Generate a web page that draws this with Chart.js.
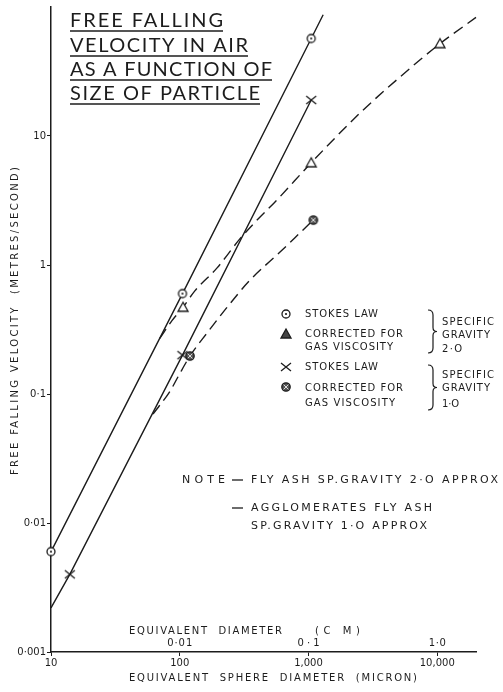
<!DOCTYPE html>
<html>
<head>
<meta charset="utf-8">
<script src="https://cdn.jsdelivr.net/npm/chart.js@4.4.1/dist/chart.umd.min.js"></script>
<style>
html, body { margin: 0; padding: 0; background: #fff; }
canvas { display: block; }
</style>
</head>
<body>
<canvas id="chute" width="503" height="692"></canvas>
<script>
// ===========================
// Data
// ===========================
const xTicks = [10, 100, 1000, 10000];
const xTickLabels = ['10', '100', '1,000', '10,000'];
const cmTickValues = [100, 1000, 10000];
const cmTickLabels = ['0·01', '0·1', '1·0'];
const yTicks = [0.001, 0.01, 0.1, 1, 10];
const yTickLabels = ['0·001', '0·01', '0·1', '1', '10'];

// Stokes law, specific gravity 2.0 (circles)
const stokes2X = [10, 105, 1050, 1300];
const stokes2Y = [0.006, 0.6, 57, 87];
const stokes2Marks = [0, 1, 2];

// Stokes law, specific gravity 1.0 (crosses)
const stokes1X = [10, 14, 105, 1050];
const stokes1Y = [0.0022, 0.004, 0.2, 19];
const stokes1Marks = [1, 2, 3];

// Corrected for gas viscosity, SG 2.0 (triangles)
const corr2X = [70, 87, 106, 131, 195, 294, 385, 570, 1050, 2500, 5000, 10500, 20000];
const corr2Y = [0.27, 0.37, 0.47, 0.63, 0.95, 1.6, 2.15, 3.2, 6.2, 15, 28, 52, 83];
const corr2Marks = [2, 8, 11];

// Corrected for gas viscosity, SG 1.0 (circled crosses)
const corr1X = [62, 84, 97, 120, 163, 233, 352, 601, 907, 1090];
const corr1Y = [0.07, 0.105, 0.136, 0.197, 0.297, 0.47, 0.765, 1.26, 1.87, 2.23];
const corr1Marks = [3, 9];

const ink = '#1c1c1c';

// ===========================
// Markers
// ===========================
function makeMarker(kind) {
    const c = document.createElement('canvas');
    c.width = 14; c.height = 14;
    const g = c.getContext('2d');
    const m = 7;
    g.strokeStyle = ink; g.fillStyle = '#fff'; g.lineWidth = 1.3;
    if (kind === 'circle') {
        g.beginPath(); g.arc(m, m, 4, 0, 2 * Math.PI); g.fill(); g.stroke();
        g.fillStyle = ink; g.beginPath(); g.arc(m, m, 1.1, 0, 2 * Math.PI); g.fill();
    } else if (kind === 'triangle' || kind === 'triangleFill') {
        if (kind === 'triangleFill') g.fillStyle = '#444';
        g.beginPath(); g.moveTo(m, m - 5); g.lineTo(m + 5, m + 4); g.lineTo(m - 5, m + 4); g.closePath();
        g.fill(); g.stroke();
    } else if (kind === 'cross') {
        g.beginPath();
        g.moveTo(m - 5, m - 4); g.lineTo(m + 5, m + 4);
        g.moveTo(m + 5, m - 4); g.lineTo(m - 5, m + 4);
        g.stroke();
    } else {
        g.fillStyle = '#555'; g.beginPath(); g.arc(m, m, 4.2, 0, 2 * Math.PI); g.fill(); g.stroke();
        g.strokeStyle = '#ddd'; g.lineWidth = 1;
        g.beginPath();
        g.moveTo(m - 2.4, m - 2.4); g.lineTo(m + 2.4, m + 2.4);
        g.moveTo(m + 2.4, m - 2.4); g.lineTo(m - 2.4, m + 2.4);
        g.stroke();
    }
    return c;
}
const mkCircle = makeMarker('circle');
const mkTriangle = makeMarker('triangle');
const mkTriangleFill = makeMarker('triangleFill');
const mkCross = makeMarker('cross');
const mkOtimes = makeMarker('otimes');

function serie(xs, ys, marks, marker, dashed) {
    return {
        data: xs.map((x, i) => ({ x: x, y: ys[i] })),
        borderColor: ink,
        borderWidth: 1.4,
        borderDash: dashed ? [11, 6] : [],
        cubicInterpolationMode: dashed ? 'monotone' : 'default',
        tension: 0,
        pointStyle: marker,
        pointRadius: ctx => marks.includes(ctx.dataIndex) ? 5 : 0,
        fill: false,
        clip: false
    };
}

// ===========================
// Text helpers
// ===========================
function fitText(ctx, s, x, y, w, size, family) {
    ctx.font = size + 'px ' + (family || '"DejaVu Sans"');
    ctx.letterSpacing = '0px';
    const m = ctx.measureText(s).width;
    const ls = s.length > 1 ? (w - m) / (s.length - 1) : 0;
    ctx.letterSpacing = ls + 'px';
    ctx.fillText(s, x, y);
    ctx.letterSpacing = '0px';
}

function brace(ctx, x, y0, y1) {
    const ym = (y0 + y1) / 2;
    ctx.beginPath();
    ctx.moveTo(x, y0);
    ctx.quadraticCurveTo(x + 5, y0, x + 5, y0 + 5);
    ctx.lineTo(x + 5, ym - 4);
    ctx.quadraticCurveTo(x + 5, ym, x + 9, ym);
    ctx.quadraticCurveTo(x + 5, ym, x + 5, ym + 4);
    ctx.lineTo(x + 5, y1 - 5);
    ctx.quadraticCurveTo(x + 5, y1, x, y1);
    ctx.stroke();
}

// ===========================
// Title, legend, notes, axis titles
// ===========================
const decor = {
    id: 'decor',
    afterDraw(chart) {
        const ctx = chart.ctx;
        const xs = chart.scales.x;
        ctx.save();
        ctx.fillStyle = ink;
        ctx.strokeStyle = ink;

        // title with underlines
        const title = [['FREE FALLING', 27, 153], ['VELOCITY IN AIR', 52, 178],
                       ['AS A FUNCTION OF', 76, 202], ['SIZE OF PARTICLE', 100, 190]];
        ctx.textBaseline = 'alphabetic';
        ctx.lineWidth = 1.3;
        title.forEach(t => {
            fitText(ctx, t[0], 70, t[1], t[2], 20, 'Lato');
            ctx.beginPath(); ctx.moveTo(70, t[1] + 4); ctx.lineTo(70 + t[2], t[1] + 4); ctx.stroke();
        });

        ctx.textBaseline = 'middle';

        // y axis title
        ctx.save();
        ctx.translate(15, 321);
        ctx.rotate(-Math.PI / 2);
        fitText(ctx, 'FREE FALLING VELOCITY  (METRES/SECOND)', -154, 0, 308, 10);
        ctx.restore();

        // legend
        ctx.drawImage(mkCircle, 279, 307);
        ctx.drawImage(mkTriangleFill, 279, 327);
        ctx.drawImage(mkCross, 279, 360);
        ctx.drawImage(mkOtimes, 279, 380);
        fitText(ctx, 'STOKES LAW', 305, 314, 73, 10);
        fitText(ctx, 'CORRECTED FOR', 305, 334, 98, 10);
        fitText(ctx, 'GAS VISCOSITY', 305, 347, 88, 10);
        fitText(ctx, 'STOKES LAW', 305, 367, 73, 10);
        fitText(ctx, 'CORRECTED FOR', 305, 388, 98, 10);
        fitText(ctx, 'GAS VISCOSITY', 305, 403, 90, 10);
        ctx.lineWidth = 1.2;
        brace(ctx, 428, 310, 353);
        brace(ctx, 428, 365, 410);
        fitText(ctx, 'SPECIFIC', 442, 322, 52, 10);
        fitText(ctx, 'GRAVITY', 442, 335, 48, 10);
        fitText(ctx, '2·O', 442, 349, 20, 10);
        fitText(ctx, 'SPECIFIC', 442, 375, 52, 10);
        fitText(ctx, 'GRAVITY', 442, 388, 48, 10);
        fitText(ctx, '1·O', 442, 404, 17, 10);

        // notes
        fitText(ctx, 'NOTE', 182, 480, 43, 11);
        ctx.lineWidth = 1.3;
        [480, 508].forEach(y => { ctx.beginPath(); ctx.moveTo(232, y); ctx.lineTo(243, y); ctx.stroke(); });
        fitText(ctx, 'FLY ASH SP.GRAVITY 2·O APPROX', 251, 480, 247, 11);
        fitText(ctx, 'AGGLOMERATES FLY ASH', 251, 508, 181, 11);
        fitText(ctx, 'SP.GRAVITY 1·O APPROX', 251, 526, 176, 11);

        // x axis: centimetre scale and titles
        fitText(ctx, 'EQUIVALENT  DIAMETER', 129, 631, 153, 10);
        fitText(ctx, '(C M)', 315, 631, 45, 10);
        const cmW = [25, 22, 17];
        cmTickValues.forEach((v, i) => {
            const px = xs.getPixelForValue(v);
            fitText(ctx, cmTickLabels[i], px - cmW[i] / 2, 643, cmW[i], 10);
        });
        fitText(ctx, 'EQUIVALENT  SPHERE  DIAMETER  (MICRON)', 129, 678, 288, 10);

        ctx.restore();
    }
};

// ===========================
// Chart
// ===========================
new Chart(document.getElementById('chute').getContext('2d'), {
    type: 'line',
    data: {
        datasets: [
            serie(stokes2X, stokes2Y, stokes2Marks, mkCircle, false),
            serie(stokes1X, stokes1Y, stokes1Marks, mkCross, false),
            serie(corr2X, corr2Y, corr2Marks, mkTriangle, true),
            serie(corr1X, corr1Y, corr1Marks, mkOtimes, true)
        ]
    },
    options: {
        responsive: false,
        animation: false,
        devicePixelRatio: 1,
        layout: { padding: { top: 7, right: 27, left: 0, bottom: 0 } },
        plugins: { legend: { display: false }, tooltip: { enabled: false } },
        scales: {
            x: {
                type: 'logarithmic',
                min: 10,
                max: 20000,
                border: { color: ink, width: 1.5 },
                grid: { drawOnChartArea: false, drawTicks: true, tickLength: 4, color: ink },
                ticks: {
                    autoSkip: false, maxRotation: 0, padding: 1, color: ink,
                    font: { family: 'DejaVu Sans', size: 10 },
                    callback: (v, i) => xTickLabels[i]
                },
                afterBuildTicks: s => { s.ticks = xTicks.map(v => ({ value: v })); },
                afterFit: s => { s.height = 40; }
            },
            y: {
                type: 'logarithmic',
                min: 0.001,
                max: 100,
                border: { color: ink, width: 1.5 },
                grid: { drawOnChartArea: false, drawTicks: true, tickLength: 4, color: ink },
                ticks: {
                    autoSkip: false, padding: 1, color: ink,
                    font: { family: 'DejaVu Sans', size: 10 },
                    callback: (v, i) => yTickLabels[i]
                },
                afterBuildTicks: s => { s.ticks = yTicks.map(v => ({ value: v })); },
                afterFit: s => { s.width = 51; }
            }
        }
    },
    plugins: [decor]
});
</script>
</body>
</html>
